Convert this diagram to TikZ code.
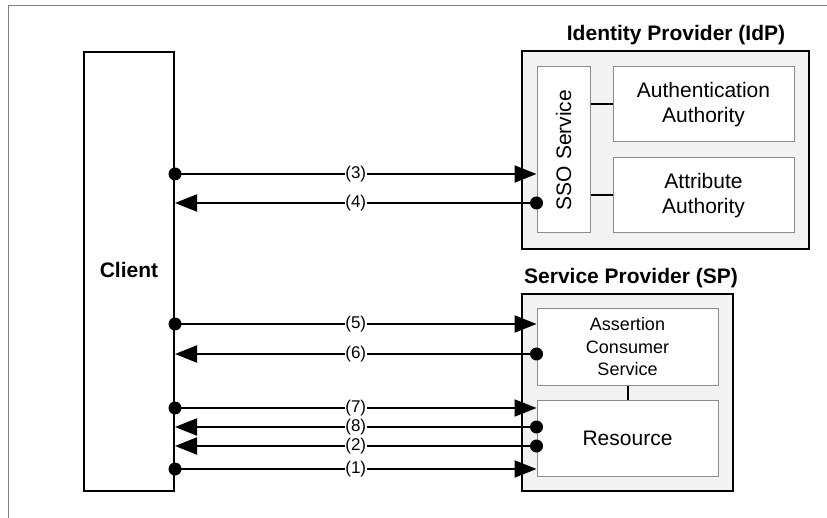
\documentclass[tikz,border=0pt]{standalone}
\usepackage{fontspec}
\setmainfont{Liberation Sans}
\usetikzlibrary{arrows.meta}
\definecolor{panel}{HTML}{F2F2F2}
\definecolor{innerline}{HTML}{8C8C8C}
\begin{document}
\begin{tikzpicture}[x=1pt,y=-1pt,
  outerbox/.style={draw=black,line width=2pt,fill=panel,inner sep=0pt},
  clientbox/.style={draw=black,line width=2pt,fill=white,inner sep=0pt},
  innerbox/.style={draw=innerline,line width=1pt,fill=white,inner sep=0pt,align=center,font=\fontsize{21}{25}\selectfont},
  titletext/.style={font=\fontsize{21}{25}\selectfont\bfseries},
  msg/.style={line width=2pt,-{Triangle[length=22pt,width=17pt]}},
  lbl/.style={fill=white,inner sep=0.5pt,font=\fontsize{17}{19}\selectfont},
  link/.style={line width=2pt}]
\useasboundingbox (0,0) rectangle (827,518);
% outer frame (cropped)
\draw[gray,line width=1pt] (827,6) -- (8,6) -- (8,518);
% client
\node[clientbox,minimum width=90pt,minimum height=439pt] (client) at (129,271.5) {};
\node[titletext] (clientlbl) at (129,270) {Client};
% IdP
\node[outerbox,minimum width=287pt,minimum height=198pt] (idp) at (665.5,150) {};
\node[titletext] (idptitle) at (676,35) {Identity Provider (IdP)};
\node[innerbox,minimum width=53pt,minimum height=166pt] (sso) at (563.5,150) {};
\node[rotate=90,font=\fontsize{21}{25}\selectfont] (ssotext) at (sso.center) {SSO Service};
\node[innerbox,minimum width=181pt,minimum height=75pt] (auth) at (703.5,104.5) {Authentication\\Authority};
\node[innerbox,minimum width=181pt,minimum height=75pt] (attr) at (703.5,195.5) {Attribute\\Authority};
\draw[link] (sso.east |- auth.west) -- (auth.west);
\draw[link] (sso.east |- attr.west) -- (attr.west);
% SP
\node[outerbox,minimum width=211pt,minimum height=197pt] (sp) at (627.5,392.5) {};
\node[titletext] (sptitle) at (631,278) {Service Provider (SP)};
\node[innerbox,minimum width=181pt,minimum height=76pt,font=\fontsize{18}{22.5}\selectfont] (acs) at (627.5,347) {Assertion\\Consumer\\Service};
\node[innerbox,minimum width=181pt,minimum height=76pt] (res) at (627.5,438) {Resource};
\draw[link] (acs.south) -- (res.north);
% coordinates of message rows
\coordinate (y3) at (0,174);
\coordinate (y4) at (0,203);
\coordinate (y5) at (0,324);
\coordinate (y6) at (0,354);
\coordinate (y7) at (0,408);
\coordinate (y8) at (0,427);
\coordinate (y2) at (0,446);
\coordinate (y1) at (0,469);
% client -> provider
\foreach \r/\t/\n in {y3/sso/3,y5/acs/5,y7/res/7,y1/res/1}{
  \draw[msg] (client.east |- \r) -- node[lbl]{(\n)} (\t.west |- \r);
  \fill (client.east |- \r) circle (6.5pt);
}
% provider -> client
\foreach \r/\t/\n in {y4/sso/4,y6/acs/6,y8/res/8,y2/res/2}{
  \draw[msg] (\t.west |- \r) -- node[lbl]{(\n)} (client.east |- \r);
  \fill (\t.west |- \r) circle (6.5pt);
}
\end{tikzpicture}
\end{document}
